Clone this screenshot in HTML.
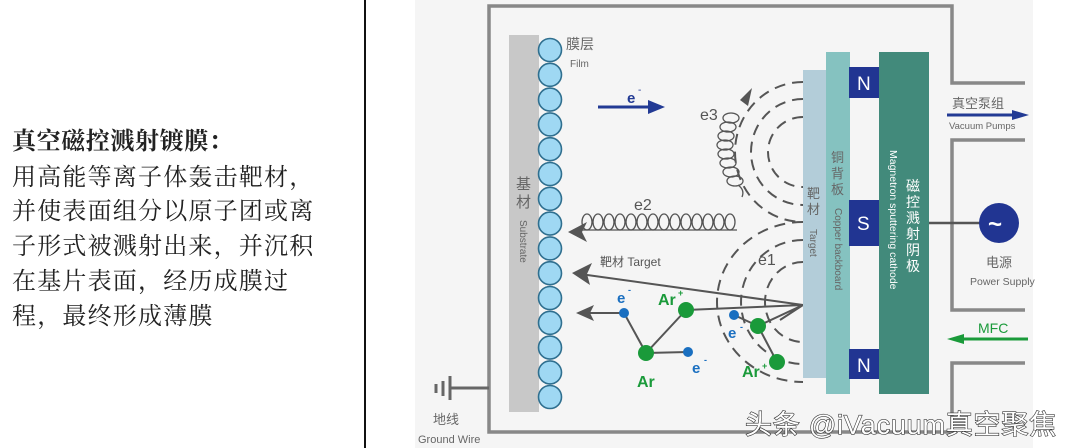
<!DOCTYPE html>
<html><head><meta charset="utf-8"><style>
html,body{margin:0;padding:0;background:#fff;}
body{width:1080px;height:448px;position:relative;overflow:hidden;}
.t{position:absolute;left:12px;font-family:"Liberation Serif","Noto Serif CJK SC",serif;font-size:24px;color:#222;white-space:nowrap;letter-spacing:1.2px;}
svg{position:absolute;left:0;top:0;}
</style></head><body>
<div style="position:absolute;left:364px;top:0;width:2px;height:448px;background:#111"></div>
<div style="position:absolute;left:415px;top:0;width:618px;height:448px;background:#f5f5f5"></div>
<div class="t" style="top:121px;font-weight:bold;letter-spacing:0.6px">真空磁控溅射镀膜：</div>
<div class="t" style="top:157px">用高能等离子体轰击靶材，</div>
<div class="t" style="top:191px">并使表面组分以原子团或离</div>
<div class="t" style="top:226px">子形式被溅射出来，并沉积</div>
<div class="t" style="top:261px">在基片表面，经历成膜过</div>
<div class="t" style="top:296px">程，最终形成薄膜</div>
<svg width="1080" height="448" viewBox="0 0 1080 448" font-family="Liberation Sans, Noto Sans CJK SC, sans-serif">
<!-- chamber -->
<path d="M1025,83 H952 V6 H489 V432 H952 V363 H1025 M1025,140 H952 V310 H1025" fill="none" stroke="#888" stroke-width="3.5"/>
<!-- ground -->
<path d="M450,388 H489 M450,376 V400 M443,381 V396 M436,384 V393" stroke="#666" stroke-width="3" fill="none"/>
<text x="433" y="424" font-size="13" fill="#666">地线</text>
<text x="418" y="443" font-size="11" fill="#666">Ground Wire</text>
<!-- substrate -->
<rect x="509" y="35" width="30" height="377" fill="#c8c8c8"/>
<g fill="#9fd8f3" stroke="#2f6f8f" stroke-width="1.6">
<circle cx="550" cy="50" r="11.5"/><circle cx="550" cy="74.8" r="11.5"/><circle cx="550" cy="99.6" r="11.5"/><circle cx="550" cy="124.4" r="11.5"/><circle cx="550" cy="149.2" r="11.5"/><circle cx="550" cy="174" r="11.5"/><circle cx="550" cy="198.8" r="11.5"/><circle cx="550" cy="223.6" r="11.5"/><circle cx="550" cy="248.4" r="11.5"/><circle cx="550" cy="273.2" r="11.5"/><circle cx="550" cy="298" r="11.5"/><circle cx="550" cy="322.8" r="11.5"/><circle cx="550" cy="347.6" r="11.5"/><circle cx="550" cy="372.4" r="11.5"/><circle cx="550" cy="397" r="11.5"/>
</g>
<text x="566" y="49" font-size="14" fill="#666">膜层</text>
<text x="570" y="67" font-size="10" fill="#666">Film</text>
<text x="516" y="189" font-size="15" fill="#666">基</text><text x="516" y="207" font-size="15" fill="#666">材</text>
<text transform="translate(520,220) rotate(90)" font-size="10" fill="#666">Substrate</text>
<!-- e- arrow -->
<line x1="598" y1="107" x2="650" y2="107" stroke="#223a94" stroke-width="3"/>
<path d="M648,100 L665,107 L648,114Z" fill="#223a94"/>
<text x="627" y="103" font-size="15" font-weight="bold" fill="#223a94">e</text><text x="638" y="93" font-size="10" fill="#223a94">-</text>
<!-- dashed arcs -->
<g fill="none" stroke="#555" stroke-width="2" stroke-dasharray="11,7">
<path d="M803,82 A68,70 0 0 0 803,222"/>
<path d="M803,99 A52,53 0 0 0 803,205"/>
<path d="M803,117 A35,35 0 0 0 803,187"/>
<path d="M803,222 A86,80 0 0 0 803,382"/>
<path d="M803,240 A62,62 0 0 0 803,364"/>
<path d="M803,262 A38,40 0 0 0 803,342"/>
</g>
<path d="M740,100 L752,88 L748,106Z" fill="#555"/>
<!-- e3 coil -->
<g fill="none" stroke="#555" stroke-width="1.3">
<ellipse cx="731" cy="118" rx="8" ry="5"/><ellipse cx="728" cy="127" rx="8" ry="5"/><ellipse cx="726" cy="136" rx="8" ry="5"/><ellipse cx="725" cy="145" rx="8" ry="5"/><ellipse cx="726" cy="154" rx="8" ry="5"/><ellipse cx="728" cy="163" rx="8" ry="5"/><ellipse cx="731" cy="172" rx="8" ry="5"/><ellipse cx="735" cy="181" rx="8" ry="5"/><path d="M738,185 Q745,190 742,197"/>
</g>
<text x="700" y="120" font-size="16" fill="#555">e3</text>
<!-- e2 coil -->
<g fill="none" stroke="#555" stroke-width="1.3">
<ellipse cx="587" cy="222" rx="5" ry="8"/><ellipse cx="598" cy="222" rx="5" ry="8"/><ellipse cx="609" cy="222" rx="5" ry="8"/><ellipse cx="620" cy="222" rx="5" ry="8"/><ellipse cx="631" cy="222" rx="5" ry="8"/><ellipse cx="642" cy="222" rx="5" ry="8"/><ellipse cx="653" cy="222" rx="5" ry="8"/><ellipse cx="664" cy="222" rx="5" ry="8"/><ellipse cx="675" cy="222" rx="5" ry="8"/><ellipse cx="686" cy="222" rx="5" ry="8"/><ellipse cx="697" cy="222" rx="5" ry="8"/><ellipse cx="708" cy="222" rx="5" ry="8"/><ellipse cx="719" cy="222" rx="5" ry="8"/><ellipse cx="730" cy="222" rx="5" ry="8"/>
<path d="M582,230 H737"/>
</g>
<path d="M568,232 L587,222 L582,232 L587,242Z" fill="#555"/>
<text x="634" y="210" font-size="16" fill="#555">e2</text>
<text x="758" y="265" font-size="16" fill="#555">e1</text>
<!-- target arrow -->
<line x1="803" y1="305" x2="580" y2="274" stroke="#555" stroke-width="2"/>
<path d="M572,273 L592,263 L587,274 L590,285Z" fill="#555"/>
<text x="600" y="266" font-size="12" fill="#555">靶材 Target</text>
<!-- particle lines -->
<g stroke="#555" stroke-width="2" fill="none">
<path d="M803,305 L686,310 M803,305 L758,326 M803,305 L780,320"/>
<path d="M624,313 L646,353 L686,310 M646,353 L688,352 M734,315 L758,326 L777,362"/>
<path d="M624,313 H590"/>
</g>
<path d="M576,313 L594,305 L590,313 L594,321Z" fill="#555"/>
<g fill="#1a9a3a"><circle cx="686" cy="310" r="8"/><circle cx="646" cy="353" r="8"/><circle cx="758" cy="326" r="8"/><circle cx="777" cy="362" r="8"/></g>
<g fill="#1a6fc0"><circle cx="624" cy="313" r="5"/><circle cx="688" cy="352" r="5"/><circle cx="734" cy="315" r="5"/></g>
<g font-weight="bold" font-size="16" fill="#1a9a3a"><text x="658" y="305">Ar</text><text x="678" y="296" font-size="9">+</text><text x="637" y="387">Ar</text><text x="742" y="377">Ar</text><text x="762" y="369" font-size="9">+</text></g>
<g font-weight="bold" font-size="15" fill="#1a6fc0"><text x="617" y="303">e</text><text x="628" y="293" font-size="9">-</text><text x="692" y="373">e</text><text x="704" y="363" font-size="9">-</text><text x="728" y="338">e</text><text x="740" y="330" font-size="9">-</text></g>
<!-- target/backboard/cathode -->
<rect x="803" y="70" width="23" height="308" fill="#b3cdd9"/>
<rect x="826" y="52" width="24" height="342" fill="#85c2c0"/>
<rect x="849" y="67" width="30" height="31" fill="#213592"/>
<rect x="849" y="200" width="30" height="46" fill="#213592"/>
<rect x="849" y="349" width="30" height="30" fill="#213592"/>
<rect x="879" y="52" width="50" height="342" fill="#428a7b"/>
<g fill="#fff" font-size="19"><text x="857" y="90">N</text><text x="857" y="230">S</text><text x="857" y="372">N</text></g>
<g font-size="13" fill="#666"><text x="807" y="198">靶</text><text x="807" y="214">材</text><text x="831" y="162">铜</text><text x="831" y="178">背</text><text x="831" y="194">板</text></g>
<text transform="translate(810,229) rotate(90)" font-size="10" fill="#666">Target</text>
<text transform="translate(835,208) rotate(90)" font-size="10" fill="#666">Copper backboard</text>
<g font-size="14" fill="#fff"><text x="906" y="191">磁</text><text x="906" y="207">控</text><text x="906" y="223">溅</text><text x="906" y="239">射</text><text x="906" y="255">阴</text><text x="906" y="271">极</text></g>
<text transform="translate(890,150) rotate(90)" font-size="10.5" fill="#fff">Magnetron sputtering cathode</text>
<!-- power -->
<line x1="929" y1="223" x2="985" y2="223" stroke="#555" stroke-width="2.5"/>
<circle cx="999" cy="223" r="20" fill="#213592"/>
<text x="988" y="232" font-size="24" font-weight="bold" fill="#fff">~</text>
<text x="986" y="267" font-size="13" fill="#666">电源</text>
<text x="970" y="285" font-size="10.5" fill="#666">Power Supply</text>
<!-- pumps -->
<text x="952" y="108" font-size="13" fill="#666">真空泵组</text>
<line x1="947" y1="115" x2="1015" y2="115" stroke="#223a94" stroke-width="3"/>
<path d="M1012,110 L1029,115 L1012,120Z" fill="#223a94"/>
<text x="949" y="129" font-size="9.5" fill="#666">Vacuum Pumps</text>
<!-- MFC -->
<text x="978" y="333" font-size="14" fill="#1a9a3a">MFC</text>
<line x1="960" y1="339" x2="1028" y2="339" stroke="#1a9a3a" stroke-width="3"/>
<path d="M947,339 L964,334 L964,344Z" fill="#1a9a3a"/>
<!-- watermark -->
<text x="745" y="434" font-size="27" letter-spacing="0.8" fill="#fff" stroke="#333" stroke-width="1.2" paint-order="stroke">头条 @iVacuum真空聚焦</text>
</svg>
</body></html>
